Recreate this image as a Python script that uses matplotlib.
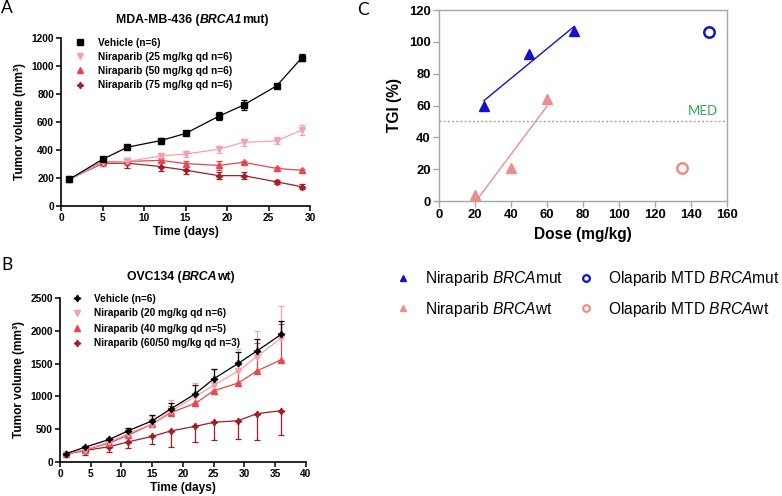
import matplotlib
matplotlib.use("Agg")
import matplotlib.pyplot as plt
from matplotlib.lines import Line2D
import numpy as np

plt.rcParams['font.family'] = ['Liberation Sans', 'DejaVu Sans']
plt.rcParams['mathtext.fontset'] = 'custom'
plt.rcParams['mathtext.rm'] = 'Liberation Sans'
plt.rcParams['mathtext.it'] = 'Liberation Sans:italic'
plt.rcParams['mathtext.bf'] = 'Liberation Sans:bold'

# ---------------- Data ----------------
# Panel A: MDA-MB-436 (BRCA1mut)
days_a = [1, 5, 8, 12, 15, 19, 22, 26, 29]
veh_a = [191, 333, 420, 467, 518, 641, 721, 859, 1058]
veh_a_err = [8, 15, 15, 18, 12, 30, 35, 12, 25]
n25_a = [191, 312, 318, 357, 371, 405, 455, 465, 543]
n25_a_err = [8, 25, 25, 20, 20, 25, 25, 25, 35]
n50_a = [191, 316, 318, 326, 303, 290, 312, 268, 255]
n50_a_err = [8, 15, 15, 15, 15, 30, 10, 10, 10]
n75_a = [191, 305, 306, 282, 256, 217, 217, 172, 138]
n75_a_err = [8, 20, 35, 30, 30, 25, 25, 15, 20]
labels_a = ["Vehicle (n=6)", "Niraparib (25 mg/kg qd n=6)",
            "Niraparib (50 mg/kg qd n=6)", "Niraparib (75 mg/kg qd n=6)"]

# Panel B: OVC134 (BRCAwt)
days_b = [1, 4, 8, 11, 15, 18, 22, 25, 29, 32, 36]
veh_b = [127, 224, 343, 473, 628, 808, 1040, 1268, 1504, 1692, 1946]
veh_b_up = [15, 25, 30, 45, 90, 90, 130, 150, 170, 180, 210]
n20_b = [125, 190, 305, 432, 584, 772, 1000, 1170, 1387, 1606, 1890]
n20_b_up = [15, 30, 40, 70, 120, 170, 200, 245, 340, 390, 490]
n40_b = [122, 178, 290, 406, 579, 752, 894, 1087, 1204, 1387, 1560]
n40_b_up = [10, 20, 30, 40, 80, 100, 150, 200, 280, 430, 540]
n60_b = [122, 173, 234, 305, 391, 473, 544, 605, 630, 737, 783]
n60_b_dn = [20, 61, 76, 97, 111, 244, 234, 270, 285, 397, 377]
labels_b = ["Vehicle (n=6)", "Niraparib (20 mg/kg qd n=6)",
            "Niraparib (40 mg/kg qd n=5)", "Niraparib (60/50 mg/kg qd n=3)"]

# Panel C: TGI vs dose
nir_mut_dose = [25, 50, 75]
nir_mut_tgi = [60, 92.5, 106.5]
nir_wt_dose = [20, 40, 60]
nir_wt_tgi = [3.5, 20.5, 64]
ola_mut_dose = [150]
ola_mut_tgi = [106]
ola_wt_dose = [135]
ola_wt_tgi = [21]
med_level = 50

# ---------------- Styles ----------------
BLACK = "#000000"
PINK = "#F4A3AB"
RED = "#E8474F"
DARK = "#A51E24"
BLUE = "#1212C8"
SALMON = "#F08C8C"
GRAY = "#A6A6A6"
STAR = (4, 1, 0)

W, H = 782, 496
fig = plt.figure(figsize=(W / 100, H / 100), dpi=100)


def px_axes(l, t, r, b):
    return fig.add_axes([l / W, 1 - b / H, (r - l) / W, (b - t) / H])


def chain(x, y, parts, size):
    t = fig.text(x / W, 1 - y / H, parts[0][0], fontsize=size, fontweight='bold',
                 fontstyle=parts[0][1], va='baseline', ha='left')
    for s, st in parts[1:]:
        t = fig.axes[0].annotate(s, xy=(1, 0), xycoords=t, va='bottom', ha='left',
                                 fontsize=size, fontweight='bold', fontstyle=st,
                                 annotation_clip=False)
    return t


def style_growth(ax, xmax, xstep, ymax, ystep):
    ax.set_xlim(0, xmax)
    ax.set_ylim(0, ymax)
    ax.set_xticks(np.arange(0, xmax + 0.1, xstep))
    ax.set_yticks(np.arange(0, ymax + 0.1, ystep))
    for s in ['top', 'right']:
        ax.spines[s].set_visible(False)
    for s in ['left', 'bottom']:
        ax.spines[s].set_linewidth(1.2)
    ax.tick_params(direction='out', length=3.5, width=1.1, labelsize=7.3, pad=1.5)
    for lab in ax.get_xticklabels() + ax.get_yticklabels():
        lab.set_fontweight('bold')
    ax.set_xlabel("Time (days)", fontsize=8.6, fontweight='bold', labelpad=2)
    ax.set_ylabel("Tumor volume (mm³)", fontsize=8.6, fontweight='bold', labelpad=4)


# ---------------- Panel A ----------------
axA = px_axes(61, 38, 310, 206)
series_a = [(veh_a, veh_a_err, BLACK, 's', 4.0),
            (n25_a, n25_a_err, PINK, 'v', 4.0),
            (n50_a, n50_a_err, RED, '^', 4.0),
            (n75_a, n75_a_err, DARK, STAR, 4.8)]
for vals, err, c, m, ms in reversed(series_a):
    axA.errorbar(days_a, vals, yerr=err, color=c, marker=m, markersize=ms,
                 lw=0.9, elinewidth=0.9, capsize=2, capthick=0.9, clip_on=False)
style_growth(axA, 30, 5, 1200, 200)
handles_a = [Line2D([], [], ls='none', marker=m, color=c, markersize=ms)
             for _, _, c, m, ms in series_a]
axA.legend(handles_a, labels_a, loc='upper left', bbox_to_anchor=(75 / W, 1 - 37.5 / H),
           bbox_transform=fig.transFigure, frameon=False, prop={'weight': 'bold', 'size': 7.3},
           handlelength=1.0, handletextpad=1.25, labelspacing=0.42, borderpad=0, borderaxespad=0)

# ---------------- Panel B ----------------
axB = px_axes(60, 298, 306, 462)
z = [0] * len(days_b)
series_b = [(veh_b, [z, veh_b_up], BLACK, STAR, 4.8),
            (n20_b, [z, n20_b_up], PINK, 'v', 4.0),
            (n40_b, [z, n40_b_up], RED, '^', 4.0),
            (n60_b, [n60_b_dn, z], DARK, STAR, 4.8)]
for vals, err, c, m, ms in reversed(series_b):
    axB.errorbar(days_b, vals, yerr=err, color=c, marker=m, markersize=ms,
                 lw=0.9, elinewidth=0.9, capsize=2, capthick=0.9, clip_on=False)
style_growth(axB, 40, 5, 2500, 500)
handles_b = [Line2D([], [], ls='none', marker=m, color=c, markersize=ms)
             for _, _, c, m, ms in series_b]
axB.legend(handles_b, labels_b, loc='upper left', bbox_to_anchor=(72 / W, 1 - 293.5 / H),
           bbox_transform=fig.transFigure, frameon=False, prop={'weight': 'bold', 'size': 7.2},
           handlelength=1.0, handletextpad=1.25, labelspacing=0.5, borderpad=0, borderaxespad=0)

# ---------------- Panel C ----------------
axC = px_axes(439, 10, 727, 201)
axC.set_xlim(0, 160)
axC.set_ylim(0, 120)
axC.set_xticks(np.arange(0, 161, 20))
axC.set_yticks(np.arange(0, 121, 20))
for s in axC.spines.values():
    s.set_color(GRAY)
    s.set_linewidth(1.0)
axC.tick_params(direction='out', length=4, width=1.0, color=GRAY, labelsize=9.4, pad=2)
for lab in axC.get_xticklabels() + axC.get_yticklabels():
    lab.set_fontweight('bold')
axC.set_xlabel("Dose (mg/kg)", fontsize=11.2, fontweight='bold', labelpad=4)
axC.set_ylabel("TGI (%)", fontsize=11.2, fontweight='bold', labelpad=5)

axC.axhline(med_level, color=GRAY, ls=(0, (1.5, 1.5)), lw=1.0)
axC.text(138, med_level + 2.5, "MED", color="#2EAA5A", fontsize=9.5,
         family=['Lato', 'DejaVu Sans'], ha='left', va='bottom')

for dose, tgi, c in [(nir_mut_dose, nir_mut_tgi, BLUE), (nir_wt_dose, nir_wt_tgi, SALMON)]:
    k, b0 = np.polyfit(dose, tgi, 1)
    xs = np.array([min(dose), max(dose)])
    axC.plot(xs, k * xs + b0, color=c, lw=1.0)
    axC.plot(dose, tgi, ls='none', marker='^', color=c, markersize=7, clip_on=False)
axC.plot(ola_mut_dose, ola_mut_tgi, ls='none', marker='o', mfc='none', mec=BLUE,
         mew=1.8, markersize=7.5, clip_on=False)
axC.plot(ola_wt_dose, ola_wt_tgi, ls='none', marker='o', mfc='none', mec=SALMON,
         mew=1.8, markersize=7.5, clip_on=False)

handles_c = [Line2D([], [], ls='none', marker='^', color=BLUE, markersize=4.6),
             Line2D([], [], ls='none', marker='^', color=SALMON, markersize=4.6),
             Line2D([], [], ls='none', marker='o', mfc='none', mec=BLUE, mew=1.6, markersize=4.8),
             Line2D([], [], ls='none', marker='o', mfc='none', mec=SALMON, mew=1.6, markersize=4.8)]
labels_c = [r"Niraparib $\mathit{BRCA}$mut", r"Niraparib $\mathit{BRCA}$wt",
            r"Olaparib MTD $\mathit{BRCA}$mut", r"Olaparib MTD $\mathit{BRCA}$wt"]
fig.legend(handles_c, labels_c, ncol=2, loc='upper left', bbox_to_anchor=(395 / W, 1 - 269 / H),
           frameon=False, fontsize=11.2, handlelength=1.0, handletextpad=0.9,
           columnspacing=1.0, labelspacing=0.75, borderpad=0, borderaxespad=0)

# ---------------- Titles & panel letters ----------------
chain(116, 23, [("MDA-MB-436 (", 'normal'), ("BRCA1", 'italic'), ("mut)", 'normal')], 8.8)
chain(127, 280, [("OVC134 (", 'normal'), ("BRCA", 'italic'), ("wt)", 'normal')], 8.8)
for letter, x, y in [("A", 1, 13), ("B", 1, 270), ("C", 357, 15)]:
    fig.text(x / W, 1 - y / H, letter, fontsize=12.5, family=['Lato', 'DejaVu Sans'],
             va='baseline', ha='left')

fig.savefig("out.png", dpi=100)
